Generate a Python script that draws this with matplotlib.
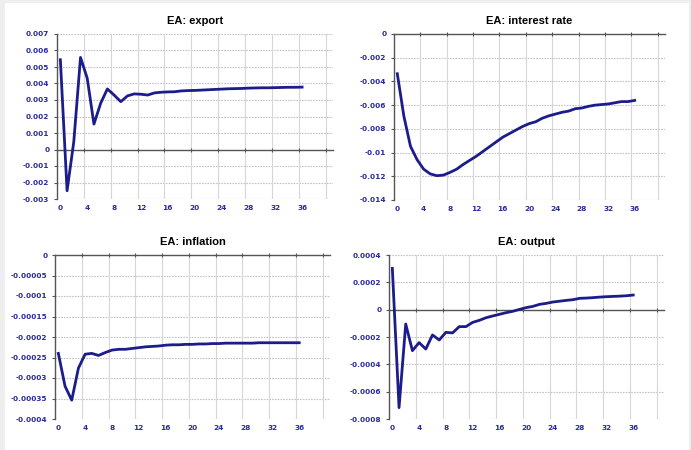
import matplotlib
matplotlib.use("Agg")
import matplotlib.pyplot as plt
from matplotlib.patches import Rectangle
import numpy as np

periods = list(range(37))

export = [0.00544, -0.0025, 0.00047, 0.00558, 0.00432, 0.00154, 0.0028, 0.00367, 0.0033, 0.0029,
          0.00325, 0.00337, 0.00335, 0.0033, 0.00343, 0.00347, 0.00349, 0.0035, 0.00355, 0.00357,
          0.00358, 0.0036, 0.00362, 0.00364, 0.00366, 0.00368, 0.00369, 0.0037, 0.00372, 0.00373,
          0.00374, 0.00374, 0.00375, 0.00376, 0.00377, 0.00377, 0.00378]

interest_rate = [-0.00335, -0.00694, -0.00947, -0.0106, -0.0114, -0.0118, -0.01195, -0.0119, -0.01167, -0.0114,
                 -0.0110, -0.01065, -0.0103, -0.0099, -0.0095, -0.0091, -0.0087, -0.0084, -0.0081, -0.0078,
                 -0.00756, -0.0074, -0.0071, -0.0069, -0.00675, -0.0066, -0.0065, -0.0063, -0.00624, -0.0061,
                 -0.0060, -0.00595, -0.0059, -0.0058, -0.0057, -0.0057, -0.0056]

inflation = [-0.00024, -0.00032, -0.000354, -0.000276, -0.000242, -0.00024, -0.000245, -0.000238, -0.000232, -0.00023,
             -0.00023, -0.000228, -0.000226, -0.000224, -0.000223, -0.000222, -0.00022, -0.000219, -0.000219, -0.000218,
             -0.000218, -0.000217, -0.000217, -0.000216, -0.000216, -0.000215, -0.000215, -0.000215, -0.000215, -0.000215,
             -0.000214, -0.000214, -0.000214, -0.000214, -0.000214, -0.000214, -0.000214]

output = [0.000302, -0.000717, -0.000105, -0.0003, -0.000241, -0.000288, -0.000185, -0.000222, -0.000166, -0.00017,
          -0.000124, -0.000124, -0.000093, -0.000078, -0.000059, -0.000046, -0.000034, -0.000022, -0.000012, 0.000002,
          0.000015, 0.000024, 0.000039, 0.000046, 0.000056, 0.000062, 0.000068, 0.000073, 0.000083, 0.000085,
          0.000088, 0.000092, 0.000095, 0.000097, 0.000099, 0.000102, 0.000107]

titles = ["EA: export", "EA: interest rate", "EA: inflation", "EA: output"]

export_yticks = [0.007, 0.006, 0.005, 0.004, 0.003, 0.002, 0.001, 0, -0.001, -0.002, -0.003]
export_ylabels = ["0.007", "0.006", "0.005", "0.004", "0.003", "0.002", "0.001", "0", "-0.001", "-0.002", "-0.003"]
interest_yticks = [0, -0.002, -0.004, -0.006, -0.008, -0.01, -0.012, -0.014]
interest_ylabels = ["0", "-0.002", "-0.004", "-0.006", "-0.008", "-0.01", "-0.012", "-0.014"]
inflation_yticks = [0, -0.00005, -0.0001, -0.00015, -0.0002, -0.00025, -0.0003, -0.00035, -0.0004]
inflation_ylabels = ["0", "-0.00005", "-0.0001", "-0.00015", "-0.0002", "-0.00025", "-0.0003", "-0.00035", "-0.0004"]
output_yticks = [0.0004, 0.0002, 0, -0.0002, -0.0004, -0.0006, -0.0008]
output_ylabels = ["0.0004", "0.0002", "0", "-0.0002", "-0.0004", "-0.0006", "-0.0008"]

xtick_labels = ["0", "4", "8", "12", "16", "20", "24", "28", "32", "36"]

LINE = "#1c1c8a"
TICKC = "#2a2aa0"
AXC = "#555555"

fig = plt.figure(figsize=(6.91, 4.5), dpi=100)
fig.patch.set_facecolor("#eeeeee")
fig.patches.append(Rectangle((5 / 691, 0), (689 - 5) / 691, 447 / 450, transform=fig.transFigure,
                             facecolor="white", edgecolor="none", zorder=-10))

W, H = 691, 450
def rect(l, r, t, b):
    return [l / W, 1 - b / H, (r - l) / W, (b - t) / H]

panels = [
    (rect(57, 333, 34, 199), export, export_yticks, export_ylabels, titles[0]),
    (rect(394, 665, 34, 200), interest_rate, interest_yticks, interest_ylabels, titles[1]),
    (rect(55, 330, 255, 419), inflation, inflation_yticks, inflation_ylabels, titles[2]),
    (rect(389, 664, 255, 419), output, output_yticks, output_ylabels, titles[3]),
]

for pos, series, yt, yl, title in panels:
    ax = fig.add_axes(pos)
    ax.set_facecolor("none")
    ymin, ymax = min(yt), max(yt)
    ax.set_xlim(-0.5, 40.6)
    ax.set_ylim(ymin, ymax)
    for yv in yt:
        if yv != 0:
            ax.axhline(yv, color="#c4c4c4", lw=0.8, ls=(0, (1.5, 1)), zorder=1)
    bounds = np.arange(3.5, 40, 4)
    for xb in bounds:
        ax.axvline(xb, color="#d6d6d6", lw=0.8, zorder=1)
    ax.plot(periods, series, color=LINE, lw=2.0, zorder=5, solid_joinstyle="round")
    for s in ["top", "right"]:
        ax.spines[s].set_visible(False)
    ax.spines["left"].set_color(AXC)
    ax.spines["left"].set_linewidth(1.0)
    ax.spines["bottom"].set_position(("data", 0))
    ax.spines["bottom"].set_color(AXC)
    ax.spines["bottom"].set_linewidth(1.0)
    ax.set_xticks(bounds)
    ax.tick_params(axis="x", length=3, direction="inout", color=AXC, labelbottom=False)
    ax.set_yticks(yt)
    ax.set_yticklabels(yl)
    ax.tick_params(axis="y", length=2.5, direction="out", color=AXC, pad=3,
                   labelsize=5.3, labelcolor=TICKC)
    for lab in ax.get_yticklabels():
        lab.set_fontweight("bold")
    sec = ax.secondary_xaxis(-0.02)
    sec.set_xticks(list(range(0, 37, 4)))
    sec.set_xticklabels(xtick_labels)
    sec.tick_params(length=0, pad=2, labelsize=5.3, labelcolor=TICKC)
    for lab in sec.get_xticklabels():
        lab.set_fontweight("bold")
    sec.spines["bottom"].set_visible(False)
    ax.set_title(title, fontsize=8, fontweight="bold", family="Liberation Sans", pad=7)

fig.savefig("out.png", dpi=100, facecolor=fig.get_facecolor())
